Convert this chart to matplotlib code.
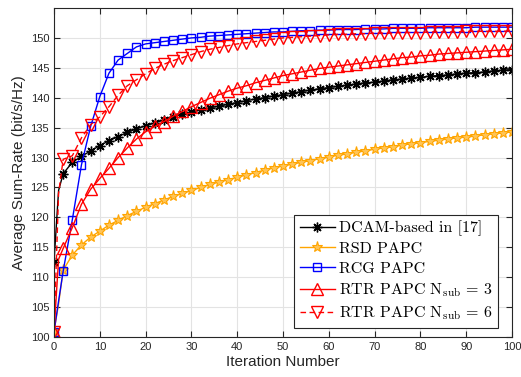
import matplotlib
matplotlib.use('Agg')
import matplotlib.pyplot as plt

# iterations: 0, 1, then every 2nd iteration up to 100
iters = [0, 1] + list(range(2, 101, 2))

dcam = [112.5, 124.5, 127.3, 129.2, 130.2, 131.1, 132.0, 132.8, 133.5, 134.2, 134.8,
        135.3, 135.8, 136.3, 136.8, 137.2, 137.6, 138.0, 138.3, 138.6, 138.9,
        139.2, 139.5, 139.8, 140.0, 140.3, 140.5, 140.8, 141.0, 141.3, 141.5,
        141.7, 141.9, 142.1, 142.3, 142.5, 142.6, 142.8, 143.0, 143.1, 143.3,
        143.4, 143.6, 143.7, 143.8, 144.0, 144.1, 144.2, 144.3, 144.5, 144.6, 144.7]

rsd = [101.0, 105.5, 111.2, 113.7, 115.4, 116.7, 117.7, 118.7, 119.5, 120.3, 121.0,
       121.7, 122.3, 122.9, 123.5, 124.0, 124.5, 125.0, 125.5, 125.9, 126.3,
       126.7, 127.1, 127.5, 127.9, 128.3, 128.6, 128.9, 129.2, 129.5, 129.8,
       130.1, 130.4, 130.6, 130.9, 131.1, 131.4, 131.6, 131.8, 132.1, 132.3,
       132.5, 132.7, 132.9, 133.1, 133.3, 133.4, 133.6, 133.8, 134.0, 134.1, 134.3]

rcg = [100.8, 106.0, 111.0, 119.6, 128.8, 135.2, 140.2, 144.1, 146.3, 147.4, 148.5,
       149.0, 149.2, 149.4, 149.6, 149.8, 150.0, 150.1, 150.3, 150.4, 150.5,
       150.6, 150.7, 150.8, 150.9, 151.0, 151.0, 151.1, 151.2, 151.2, 151.3,
       151.3, 151.4, 151.4, 151.4, 151.5, 151.5, 151.5, 151.6, 151.6, 151.6,
       151.6, 151.7, 151.7, 151.7, 151.7, 151.7, 151.8, 151.8, 151.8, 151.8, 151.8]

rtr3 = [100.8, 113.0, 114.8, 118.3, 122.2, 124.7, 126.5, 128.2, 130.0, 131.6, 133.1,
        134.3, 135.2, 136.0, 136.9, 137.7, 138.5, 139.2, 139.9, 140.5, 141.1,
        141.6, 142.0, 142.5, 142.9, 143.3, 143.7, 144.0, 144.3, 144.6, 144.9,
        145.1, 145.3, 145.5, 145.7, 145.9, 146.1, 146.3, 146.5, 146.7, 146.8,
        147.0, 147.1, 147.3, 147.4, 147.5, 147.6, 147.7, 147.8, 147.9, 148.0, 148.1]

rtr6 = [100.8, 124.0, 129.7, 130.3, 133.3, 135.5, 136.8, 138.5, 140.4, 142.0, 143.0,
        144.0, 144.9, 145.6, 146.2, 146.7, 147.2, 147.7, 148.1, 148.4, 148.7,
        149.0, 149.2, 149.4, 149.6, 149.8, 150.0, 150.1, 150.2, 150.3, 150.4,
        150.5, 150.6, 150.6, 150.7, 150.7, 150.8, 150.8, 150.8, 150.9, 150.9,
        150.9, 151.0, 151.0, 151.0, 151.0, 151.1, 151.1, 151.1, 151.1, 151.1, 151.2]

labels = ['DCAM-based in [17]', 'RSD PAPC', 'RCG PAPC',
          r'RTR PAPC $\mathrm{N}_{\mathrm{sub}}$ = 3',
          r'RTR PAPC $\mathrm{N}_{\mathrm{sub}}$ = 6']

plt.rcParams['font.family'] = ['Liberation Sans', 'DejaVu Sans']
plt.rcParams['mathtext.fontset'] = 'cm'

marks = [0] + list(range(2, len(iters)))

fig = plt.figure(figsize=(5.21, 3.77), dpi=100)
ax = fig.add_axes([54/521, 1-337/377, (512-54)/521, (337-8)/377])

ax.plot(iters, dcam, color='black', lw=1, marker=(8, 2, 0), ms=7, mew=1,
        markevery=marks, label=labels[0])
ax.plot(iters, rsd, color='#FFA500', lw=1, marker='*', ms=8, mfc='#FFC457',
        mec='#FFA500', mew=0.8, markevery=marks, label=labels[1])
ax.plot(iters, rcg, color='blue', lw=1, marker='s', ms=6, mfc='none', mew=1,
        markevery=marks, label=labels[2])
ax.plot(iters, rtr3, color='red', lw=1, marker='^', ms=8, mfc='none', mew=1,
        markevery=marks, label=labels[3])
ax.plot(iters, rtr6, color='red', lw=1, ls=(0, (4, 2.5)), marker='v', ms=8,
        mfc='none', mew=1, markevery=marks, label=labels[4])

ax.set_xlim(0, 100)
ax.set_ylim(100, 155)
ax.set_xticks(range(0, 101, 10))
ax.set_yticks(range(100, 151, 5))
ax.grid(True, color='#e3e3e3', lw=0.8)
ax.set_axisbelow(True)
ax.tick_params(direction='in', top=True, right=True, labelsize=8,
               colors='#262626', length=4, width=0.8)
for s in ax.spines.values():
    s.set_color('#262626')
    s.set_linewidth(0.8)

ax.set_xlabel('Iteration Number', fontsize=11, color='#262626', labelpad=2)
ax.set_ylabel('Average Sum-Rate (bit/s/Hz)', fontsize=11, color='#262626', labelpad=3)

leg = ax.legend(loc='lower right', bbox_to_anchor=(498/521, 1-328/377),
                bbox_transform=fig.transFigure, borderaxespad=0,
                prop={'family': 'cmr10', 'size': 11.5}, fancybox=False,
                edgecolor='#262626', framealpha=1, handlelength=2.2,
                labelspacing=0.35, handletextpad=0.25, borderpad=0.35)
leg.get_frame().set_linewidth(0.8)

fig.savefig('out.png', dpi=100)
